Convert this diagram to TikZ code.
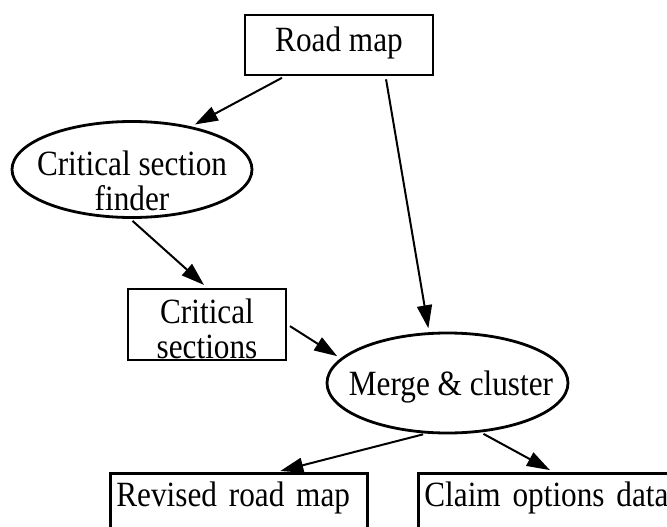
\documentclass[tikz,border=0pt]{standalone}
\usepackage{fontspec}
\setmainfont{Liberation Serif}[FakeStretch=0.88]
\usetikzlibrary{shapes.geometric,arrows.meta}
\def\flowline{\draw[line width=2pt,-{Triangle[length=23pt,width=15pt]},shorten <=3pt,shorten >=4pt]}
\def\textnode{\node[align=center,inner sep=0pt]}

\begin{document}
\begin{tikzpicture}[x=1pt,y=-1pt,font=\fontsize{35.5}{35}\selectfont,
  box/.style={draw,line width=2.8pt,inner sep=0pt},
  blob/.style={draw,line width=2.8pt,ellipse,inner sep=0pt},
  outbox/.style={draw,line width=2.8pt,anchor=north west,align=left,inner sep=6pt,
    text width=245pt,text height=27pt,text depth=80pt}]
\useasboundingbox (0,0) rectangle (667,527);
\clip (0,0) rectangle (667,527);

% -------- inputs ---------
\node[box,minimum width=188pt,minimum height=60pt] (road) at (339,45) {};
\textnode (roadtext) at (339,43) {Road map};
\node[blob,minimum width=240pt,minimum height=96pt] (finder) at (132,169.5) {};
\textnode (findertext) at (132,181) {Critical section\\finder};
\node[box,minimum width=158pt,minimum height=71pt] (sections) at (207,324.5) {};
\textnode (sectionstext) at (207,329) {Critical\\sections};

% -------- merge step ---------
\node[blob,minimum width=241pt,minimum height=100pt] (merge) at (447.5,383) {};
\textnode (mergetext) at (451,387) {Merge \& cluster};

% -------- outputs (cut off at the bottom) ---------
\node[outbox] (revised) at (109,472) {Revised road map};
\node[outbox] (claim) at (417,472) {Claim options data};

\flowline (road.210) -- (finder.36);
\flowline (road.326) -- (merge.110);
\flowline (finder.268) -- (sections.north);
\flowline (sections.east) -- (merge.167);
\flowline (merge.247) -- ([xshift=37.5pt]revised.north);
\flowline (merge.304) -- ([xshift=6.5pt]claim.north);
\end{tikzpicture}
\end{document}
